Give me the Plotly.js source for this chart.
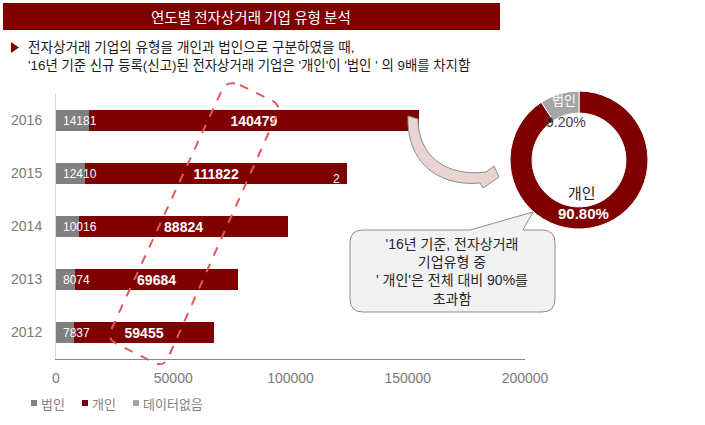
<!DOCTYPE html>
<html>
<head>
<meta charset="utf-8">
<script src="https://cdn.plot.ly/plotly-3.0.1.min.js"></script>
<style>html,body{margin:0;padding:0;background:#fff;}#chart{width:705px;height:425px;}</style>
</head>
<body>
<div id="chart"></div>
<script>
// ---- data ----
const years = ['2012', '2013', '2014', '2015', '2016'];
const corp = [7837, 8074, 10016, 12410, 14181];        // 법인
const indiv = [59455, 69684, 88824, 111822, 140479];   // 개인
const nodata = [0, 0, 0, 2, 0];                         // 데이터없음
const seriesNames = ['법인', '개인', '데이터없음'];
const seriesColors = ['#808080', '#7F0000', '#A6A6A6'];
const pieLabels = ['개인', '법인'];
const pieValues = [90.8, 9.2];
const xTickVals = [0, 50000, 100000, 150000, 200000];
const titleText = '연도별 전자상거래 기업 유형 분석';
const subLine1 = '전자상거래 기업의 유형을 개인과 법인으로 구분하였을 때,';
const subLine2 = "'16년 기준 신규 등록(신고)된 전자상거래 기업은 '개인'이 '법인 ' 의 9배를 차지함";
const calloutLines = ["'16년 기준, 전자상거래", '기업유형 중', "' 개인'은 전체 대비 90%를", '초과함'];

// ---- helpers (pixel -> paper) ----
const W = 705, H = 425;
const px = x => x / W;
const py = y => 1 - y / H;
const P = s => s.replace(/(-?[\d.]+),(-?[\d.]+)/g, (m, a, b) => px(+a).toFixed(5) + ',' + py(+b).toFixed(5));
const FONT = 'Liberation Sans, Arial, Noto Sans CJK KR, sans-serif';
const KFONT = 'Noto Sans CJK KR, sans-serif';
const DARKRED = seriesColors[1];

const traces = [
  {type: 'bar', orientation: 'h', name: seriesNames[0], y: years, x: corp,
   marker: {color: seriesColors[0]}, hoverinfo: 'x+name'},
  {type: 'bar', orientation: 'h', name: seriesNames[1], y: years, x: indiv,
   marker: {color: seriesColors[1]},
   text: indiv.map(v => '<b>' + v + '</b>'), textposition: 'inside', insidetextanchor: 'middle',
   constraintext: 'none',
   textfont: {color: '#ffffff', size: 14, family: FONT}, hoverinfo: 'x+name'},
  {type: 'bar', orientation: 'h', name: seriesNames[2], y: years, x: nodata,
   marker: {color: seriesColors[2]}, hoverinfo: 'x+name'},
  {type: 'pie', labels: pieLabels, values: pieValues, hole: 0.68, sort: false,
   direction: 'clockwise', rotation: 0, textinfo: 'none', showlegend: false, hoverinfo: 'label+percent',
   marker: {colors: [DARKRED, '#A5A5A5'], line: {color: '#ffffff', width: 1}},
   domain: {x: [px(510), px(648)], y: [py(229), py(91)]}}
];

const annotations = [];
const shapes = [];
// title
annotations.push({xref: 'paper', yref: 'paper', x: px(251), y: py(16.5), text: titleText, showarrow: false,
  xanchor: 'center', yanchor: 'middle', font: {family: KFONT, size: 14.5, color: '#ffffff'}});
// subtitle
annotations.push({xref: 'paper', yref: 'paper', x: px(26), y: py(48), text: subLine1, showarrow: false,
  xanchor: 'left', yanchor: 'middle', font: {family: FONT, size: 13.6, color: '#1a1a1a'}});
annotations.push({xref: 'paper', yref: 'paper', x: px(26), y: py(66), text: subLine2, showarrow: false,
  xanchor: 'left', yanchor: 'middle', font: {family: FONT, size: 13.4, color: '#1a1a1a'}});
// 법인 labels (y as category index so the category axis is not disturbed)
years.forEach((yr, i) => {
  annotations.push({xref: 'x', yref: 'y', x: 0, y: i, text: String(corp[i]), showarrow: false,
    xanchor: 'left', yanchor: 'middle', xshift: 5, font: {family: FONT, size: 12, color: '#ffffff'}});
  if (nodata[i] > 0) {
    annotations.push({xref: 'x', yref: 'y', x: corp[i] + indiv[i] + nodata[i], y: i, text: String(nodata[i]),
      showarrow: false, xanchor: 'right', yanchor: 'middle', xshift: -5, yshift: -5,
      font: {family: FONT, size: 12, color: '#ffffff'}});
  }
});
// donut labels
annotations.push({xref: 'paper', yref: 'paper', x: px(564), y: py(100), text: pieLabels[1], showarrow: false,
  xanchor: 'center', yanchor: 'middle', font: {family: FONT, size: 13, color: '#ffffff'}});
annotations.push({xref: 'paper', yref: 'paper', x: px(566), y: py(122), text: pieValues[1].toFixed(2) + '%', showarrow: false,
  xanchor: 'center', yanchor: 'middle', font: {family: FONT, size: 14, color: '#404040'}});
annotations.push({xref: 'paper', yref: 'paper', x: px(582), y: py(193), text: pieLabels[0], showarrow: false,
  xanchor: 'center', yanchor: 'middle', font: {family: FONT, size: 15, color: '#262626'}});
annotations.push({xref: 'paper', yref: 'paper', x: px(583), y: py(213), text: '<b>' + pieValues[0].toFixed(2) + '%</b>', showarrow: false,
  xanchor: 'center', yanchor: 'middle', font: {family: FONT, size: 15, color: '#ffffff'}});
// callout text
annotations.push({xref: 'paper', yref: 'paper', x: px(452), y: py(271), text: calloutLines.join('<br>'), showarrow: false,
  xanchor: 'center', yanchor: 'middle', align: 'center', font: {family: FONT, size: 14, color: '#262626'}});
// compact legend (squares + names, from the series arrays)
const legendX = [31, 82, 133];
seriesNames.forEach((nm, i) => {
  shapes.push({type: 'rect', xref: 'paper', yref: 'paper', x0: px(legendX[i]), x1: px(legendX[i] + 6),
    y0: py(406), y1: py(400), fillcolor: seriesColors[i], line: {width: 0}});
  annotations.push({xref: 'paper', yref: 'paper', x: px(legendX[i] + 8), y: py(403), text: nm, showarrow: false,
    xanchor: 'left', yanchor: 'middle', font: {family: KFONT, size: 13, color: '#7f7f7f'}});
});

shapes.push(
  // title banner
  {type: 'rect', xref: 'paper', yref: 'paper', x0: px(3), x1: px(500), y0: py(30), y1: py(3),
   fillcolor: DARKRED, line: {width: 0}, layer: 'below'},
  // bullet triangle
  {type: 'path', xref: 'paper', yref: 'paper', path: P('M 11,42 L 19,47.5 L 11,53 Z'),
   fillcolor: DARKRED, line: {width: 0}},
  // dashed highlight
  {type: 'path', xref: 'paper', yref: 'paper',
   path: P('M 240,85 L 273,101 Q 281,106 277,114 L 168,358 Q 164,367 155,363 L 115,343 Q 107,338 111,330 L 222,90 Q 227,80 240,85 Z'),
   line: {color: '#E05858', width: 2, dash: 'dash'}, fillcolor: 'rgba(0,0,0,0)', layer: 'above'},
  // curved arrow
  {type: 'path', xref: 'paper', yref: 'paper',
   path: P('M 408,116 C 406,160 436,187 480,183 L 483,188 L 499,177 L 494,166 L 486,172 C 446,177 418,156 418,119 Z'),
   fillcolor: '#EAD3D3', line: {color: '#8C8C8C', width: 1}, layer: 'above'},
  // callout box
  {type: 'path', xref: 'paper', yref: 'paper',
   path: P('M 363,230 L 470,230 L 533,212 L 523,230 L 542,230 Q 555,230 555,243 L 555,299 Q 555,312 542,312 L 363,312 Q 350,312 350,299 L 350,243 Q 350,230 363,230 Z'),
   fillcolor: '#F2F2F2', line: {color: '#8C8C8C', width: 1}, layer: 'above'}
);

const layout = {
  width: W, height: H,
  margin: {l: 0, r: 0, t: 0, b: 0},
  paper_bgcolor: '#ffffff', plot_bgcolor: 'rgba(0,0,0,0)',
  font: {family: FONT, color: '#6e6e6e'},
  barmode: 'stack', bargap: 0.6,
  xaxis: {domain: [px(56), px(525)], range: [0, 200000], tickvals: xTickVals, tickformat: 'd',
    showgrid: false, zeroline: false, showline: true, linecolor: '#898989', linewidth: 1,
    ticks: '', tickfont: {size: 14, color: '#7a7a7a'}, ticklabelstandoff: 6, fixedrange: true},
  yaxis: {domain: [py(359), py(94)], type: 'category', categoryorder: 'array', categoryarray: years,
    range: [-0.5, years.length - 0.5], autorange: false,
    showgrid: false, zeroline: false, showline: true, linecolor: '#D9D9D9', linewidth: 1,
    ticks: '', tickfont: {size: 14, color: '#7a7a7a'}, ticklabelstandoff: 10, fixedrange: true},
  showlegend: false,
  annotations: annotations,
  shapes: shapes
};

Plotly.newPlot('chart', traces, layout, {displayModeBar: false, staticPlot: true});
</script>
</body>
</html>
